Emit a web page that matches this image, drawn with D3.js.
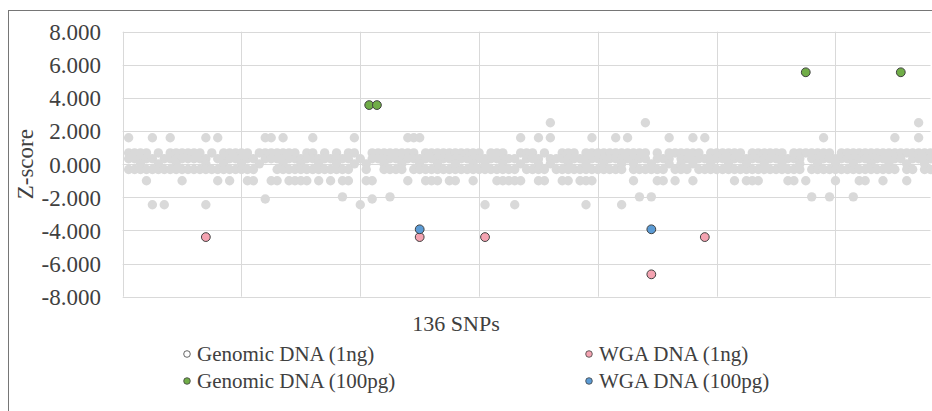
<!DOCTYPE html>
<html><head><meta charset="utf-8">
<script src="https://cdn.jsdelivr.net/npm/d3@7"></script>
</head>
<body style="margin:0">
<svg id="c" width="932" height="411"></svg>
<script>
// ---- data ----
const yTicks = [-8, -6, -4, -2, 0, 2, 4, 6, 8];
const xGridTicks = [0, 20, 40, 60, 80, 100, 120];
const xTitle = "136 SNPs";
const yTitle = "Z-score";

// background (grey) replicate z-scores, grouped by level: [level, SNP indices]
const greyTop = [0.68, [1,2,3,4,6,8,9,10,11,12,13,15,17,18,19,20,21,23,24,25,26,27,28,29,31,32,34,36,38,39,42,43,44,45,46,47,48,49,51,52,53,54,55,56,57,58,59,60,62,63,64,67,68,69,71,74,75,76,78,79,80,81,82,83,84,85,86,87,88,90,92,93,94,95,96,97,99,100,101,102,103,104,106,107,108,109,110,111,113,114,115,116,117,118,119,121,122,123,124,125,126,127,128,129,130,131,132,133,134,135,136]];
const greyMid = [0.33, [1,2,3,4,5,7,8,9,10,11,12,13,14,16,17,18,19,20,21,22,24,25,26,27,28,29,30,31,32,33,34,35,36,37,38,40,42,43,44,45,46,47,48,49,50,51,52,53,54,55,56,57,58,59,60,61,62,63,64,65,66,68,69,70,72,73,74,75,76,77,78,79,80,81,82,83,84,85,86,87,88,90,91,92,94,95,96,97,98,99,100,101,102,103,104,105,106,107,108,109,110,111,112,113,114,116,117,118,119,120,121,122,123,124,125,126,127,128,129,130,131,133,134,135,136]];
const greyZero = [0.02, [3,6,9,14,17,20,23,27,30,33,36,39,41,44,47,50,53,56,59,61,64,67,70,72,75,78,81,84,86,89,92,94,96,99,102,105,108,111,114,117,120,123,126,129,132,135]];
const greyLow = [-0.32, [1,2,3,4,5,6,7,8,9,10,11,12,13,14,15,16,17,18,19,20,21,22,26,27,28,29,30,31,32,33,34,35,36,37,38,41,44,45,46,47,49,50,51,52,53,54,55,56,57,58,59,60,61,62,63,64,65,66,68,69,70,71,73,74,75,76,77,78,79,80,81,82,83,84,86,87,88,89,90,91,93,94,95,97,98,99,100,101,102,103,104,105,106,107,108,109,110,111,112,113,114,116,117,118,119,120,121,122,123,124,125,126,127,128,129,130,132,133,135,136]];
const greyHigh25 = [2.5, [72, 88, 134]];
const greyHigh16 = [1.6, [1,5,8,14,16,24,25,27,32,39,48,49,50,67,70,72,79,83,85,92,96,98,118,130,134]];
const greyNeg1 = [-1.0, [4,10,16,18,21,22,25,26,28,29,30,31,33,35,37,38,41,42,48,51,52,53,55,56,59,63,64,65,66,67,70,71,74,75,77,78,79,86,90,91,93,96,103,105,106,107,112,113,115,120,124,125,128,132]];
const greyNeg2 = [-1.97, [37,45,87,89,116,119,123]];
const greyNeg21 = [-2.1, [24,42]];
const greyNeg245 = [-2.45, [5,7,14,40,61,66,78,84]];

// highlighted series: [SNP, z]
const genomic1ng = [];
const wga1ng = [[14,-4.4],[50,-4.4],[61,-4.4],[89,-6.65],[98,-4.4]];
const genomic100pg = [[41.5,3.57],[42.8,3.57],[115,5.55],[131,5.55]];
const wga100pg = [[50,-3.93],[89,-3.93]];

const legendNames = ["Genomic DNA (1ng)","WGA DNA (1ng)","Genomic DNA (100pg)","WGA DNA (100pg)"];
const legendColors = ["#ffffff","#f4a3b1","#70ad47","#5b9bd5"];

// ---- chart ----
const svg = d3.select("#c");
const x = d3.scaleLinear().domain([0,136]).range([122.7,930.5]);
const y = d3.scaleLinear().domain([-8,8]).range([296.7,31.7]);

function serif(sel, size){
  return sel.style("font-family", `"Times New Roman"`).attr("font-size", size).attr("fill", "#404040");
}

// outer frame
svg.append("rect").attr("x",8.5).attr("y",10.5).attr("width",940).attr("height",420)
  .attr("fill","none").attr("stroke","#767676").attr("stroke-width",1);

// grid
svg.append("g").selectAll("line").data(yTicks).join("line")
  .attr("x1",x(0)).attr("x2",x(136)).attr("y1",d=>Math.round(y(d))+0.5).attr("y2",d=>Math.round(y(d))+0.5)
  .attr("stroke","#d9d9d9").attr("stroke-width",1);
svg.append("g").selectAll("line").data(xGridTicks).join("line")
  .attr("y1",y(8)).attr("y2",y(-8)).attr("x1",d=>Math.round(x(d))+0.5).attr("x2",d=>Math.round(x(d))+0.5)
  .attr("stroke","#d9d9d9").attr("stroke-width",1);

// y axis labels
const yAxis = d3.axisLeft(y).tickValues(yTicks).tickFormat(d=>d.toFixed(3)).tickSize(0).tickPadding(0);
const ga = svg.append("g").attr("transform","translate(101,0)").call(yAxis);
ga.attr("font-family",null).attr("font-size",null);
ga.select(".domain").remove();
serif(ga.selectAll("text"), 23).attr("dy","0.34em");

// titles
serif(svg.append("text").attr("transform","translate(33,"+y(0)+") rotate(-90)").attr("text-anchor","middle"), 23).text(yTitle);
serif(svg.append("text").attr("x",456).attr("y",331).attr("text-anchor","middle"), 22).text(xTitle);

// grey points
const greyRows = [greyTop,greyMid,greyZero,greyLow,greyHigh25,greyHigh16,greyNeg1,greyNeg2,greyNeg21,greyNeg245];
const greyPts = greyRows.flatMap(([lv,xs]) => xs.map(s => [s,lv]));
svg.append("g").selectAll("circle").data(greyPts).join("circle")
  .attr("cx",d=>x(d[0])).attr("cy",d=>y(d[1])).attr("r",4.7).attr("fill","#d9d9d9");

// highlighted series
const series = [genomic1ng, wga1ng, genomic100pg, wga100pg];
series.forEach((s,i)=>{
  svg.append("g").selectAll("circle").data(s).join("circle")
    .attr("cx",d=>x(d[0])).attr("cy",d=>y(d[1])).attr("r",4.4)
    .attr("fill",legendColors[i]).attr("stroke","#404040").attr("stroke-width",1);
});

// legend
const legPos = [[187,354],[589,354],[187,381],[589,381]];
legendNames.forEach((n,i)=>{
  const [lx,ly]=legPos[i];
  svg.append("circle").attr("cx",lx).attr("cy",ly).attr("r",3.3)
    .attr("fill",legendColors[i]).attr("stroke","#404040").attr("stroke-width",0.8);
  serif(svg.append("text").attr("x",lx+10).attr("y",ly).attr("dy","0.35em"), 21).text(n);
});
</script></body></html>
